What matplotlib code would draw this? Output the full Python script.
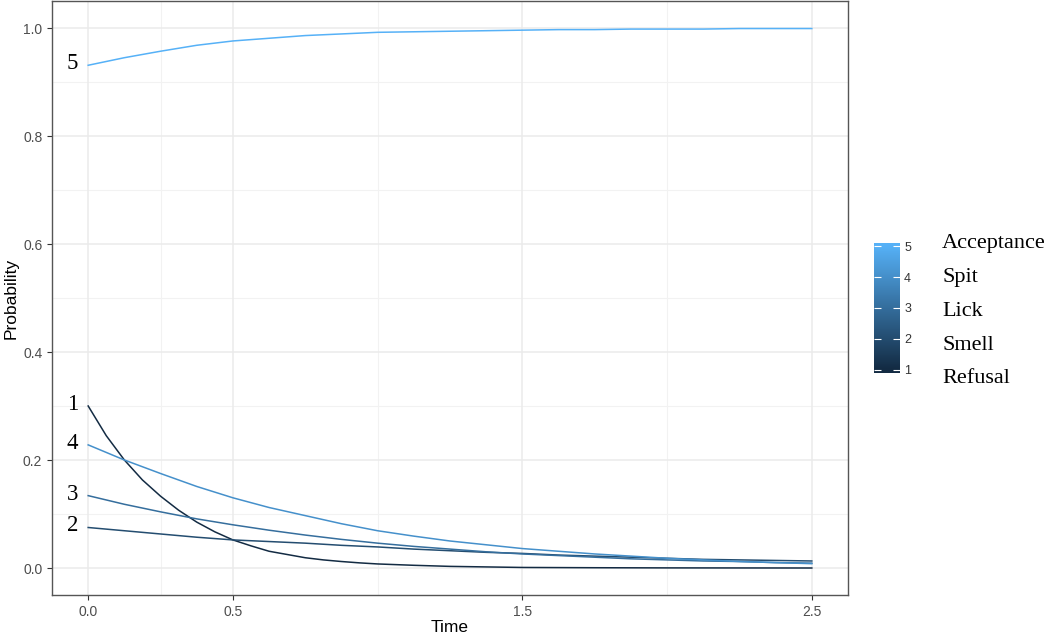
import numpy as np
import matplotlib
matplotlib.use("Agg")
import matplotlib.pyplot as plt
from matplotlib.colors import LinearSegmentedColormap

# time grid and probabilities
time = [0.0, 0.125, 0.25, 0.375, 0.5, 0.625, 0.75, 0.875, 1.0, 1.125, 1.25,
        1.375, 1.5, 1.625, 1.75, 1.875, 2.0, 2.125, 2.25, 2.375, 2.5]
# refusal drops fast, so it gets a finer grid at the start
refusal_time = [0.0, 0.0625, 0.125, 0.1875, 0.25, 0.3125, 0.375, 0.4375, 0.5,
                0.5625, 0.625, 0.6875, 0.75, 0.8125, 0.875, 0.9375, 1.0,
                1.125, 1.25, 1.375, 1.5, 1.75, 2.0, 2.25, 2.5]
refusal = [0.300, 0.245, 0.200, 0.163, 0.133, 0.107, 0.085, 0.067, 0.052,
           0.041, 0.031, 0.025, 0.019, 0.015, 0.012, 0.0095, 0.0075,
           0.005, 0.003, 0.002, 0.001, 0.0005, 0.0002, 0.0001, 0.0]
smell = [0.075, 0.069, 0.063, 0.057, 0.052, 0.049, 0.046, 0.042, 0.039, 0.035, 0.032,
         0.029, 0.027, 0.024, 0.022, 0.020, 0.018, 0.016, 0.015, 0.014, 0.013]
lick = [0.134, 0.118, 0.104, 0.091, 0.080, 0.070, 0.061, 0.053, 0.046, 0.040, 0.035,
        0.030, 0.026, 0.023, 0.020, 0.017, 0.015, 0.013, 0.012, 0.010, 0.009]
spit = [0.228, 0.200, 0.175, 0.151, 0.130, 0.112, 0.097, 0.082, 0.069, 0.059, 0.050,
        0.043, 0.036, 0.031, 0.026, 0.022, 0.018, 0.015, 0.012, 0.010, 0.008]
acceptance = [0.931, 0.945, 0.957, 0.968, 0.976, 0.981, 0.986, 0.989, 0.992, 0.993, 0.994,
              0.995, 0.996, 0.997, 0.997, 0.998, 0.998, 0.998, 0.999, 0.999, 0.999]

levels = [1, 2, 3, 4, 5]
level_names = ["Refusal", "Smell", "Lick", "Spit", "Acceptance"]
series = [(refusal_time, refusal), (time, smell), (time, lick), (time, spit),
          (time, acceptance)]

x_ticks = [0.0, 0.5, 1.5, 2.5]
x_minor = [0.25, 1.0, 2.0]
y_ticks = [0.0, 0.2, 0.4, 0.6, 0.8, 1.0]
y_minor = [0.1, 0.3, 0.5, 0.7, 0.9]

cmap = LinearSegmentedColormap.from_list("gg", ["#132B43", "#56B1F7"])
serif = ["Liberation Serif", "DejaVu Serif"]
plt.rcParams["font.family"] = ["Liberation Sans", "DejaVu Sans"]

W, H = 1050, 637
fig = plt.figure(figsize=(W / 100, H / 100), dpi=100)
ax = fig.add_axes([52 / W, 42 / H, 796 / W, 594 / H])

for v in x_minor:
    ax.axvline(v, color="#F2F2F2", lw=0.8, zorder=0)
for v in y_minor:
    ax.axhline(v, color="#F2F2F2", lw=0.8, zorder=0)
for v in x_ticks:
    ax.axvline(v, color="#EBEBEB", lw=1.1, zorder=0)
for v in y_ticks:
    ax.axhline(v, color="#EBEBEB", lw=1.1, zorder=0)

for lev, (tt, vals) in zip(levels, series):
    c = cmap((lev - 1) / 4)
    ax.plot(tt, vals, color=c, lw=1.1, zorder=3)
    ax.text(-0.035, vals[0] + 0.003, str(lev), ha="right", va="center",
            fontsize=16.5, family=serif, color="black")

ax.set_xlim(-0.125, 2.625)
ax.set_ylim(-0.05, 1.05)
ax.set_xticks(x_ticks)
ax.set_xticklabels([f"{v:.1f}" for v in x_ticks])
ax.set_yticks(y_ticks)
ax.set_yticklabels([f"{v:.1f}" for v in y_ticks])
ax.tick_params(length=3.5, width=0.8, color="#333333", labelcolor="#4D4D4D",
               labelsize=10)
for s in ax.spines.values():
    s.set_color("#555555")
    s.set_linewidth(1.0)
ax.set_xlabel("Time", fontsize=12.5, labelpad=1)
ax.set_ylabel("Probability", fontsize=12.5, labelpad=3)

# colourbar legend
cax = fig.add_axes([874 / W, (H - 373) / H, 26 / W, 130 / H])
grad = np.linspace(0.89, 5.11, 256).reshape(-1, 1)
cax.imshow(grad, aspect="auto", cmap=cmap, vmin=1, vmax=5, origin="lower",
           extent=[0, 1, 0.89, 5.11])
cax.set_xlim(0, 1)
cax.set_ylim(0.89, 5.11)
cax.set_xticks([])
cax.set_yticks(levels)
cax.yaxis.tick_right()
cax.tick_params(axis="y", direction="in", left=True, right=True, labelleft=False,
                labelright=True, length=5, width=0.8, color="white",
                labelcolor="#333333", labelsize=9, pad=3)
for s in cax.spines.values():
    s.set_visible(False)

# level names sit beside the bar, a bit more spread than the ticks
name_baselines = [383, 349.5, 316, 282, 248]
for name, yb in zip(level_names, name_baselines):
    fig.text(942 / W, 1 - yb / H, name, ha="left", va="baseline",
             fontsize=16, family=serif)

fig.savefig("out.png", dpi=100)
